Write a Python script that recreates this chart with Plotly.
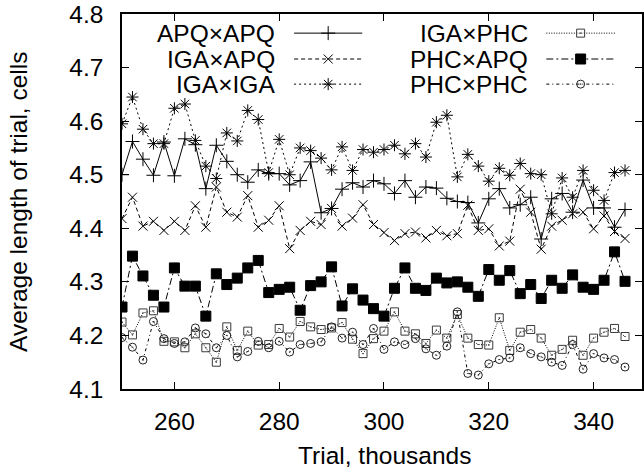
import plotly.graph_objects as go

trial = [250, 252, 254, 256, 258, 260, 262, 264, 266, 268, 270, 272, 274, 276, 278, 280, 282,
         284, 286, 288, 290, 292, 294, 296, 298, 300, 302, 304, 306, 308, 310, 312, 314, 316,
         318, 320, 322, 324, 326, 328, 330, 332, 334, 336, 338, 340, 342, 344, 346]

apq_apq = [4.500, 4.562, 4.529, 4.499, 4.561, 4.498, 4.567, 4.556, 4.474, 4.555, 4.525, 4.500,
           4.486, 4.509, 4.502, 4.502, 4.481, 4.489, 4.524, 4.429, 4.437, 4.473, 4.485, 4.477,
           4.489, 4.483, 4.465, 4.489, 4.458, 4.477, 4.475, 4.456, 4.450, 4.448, 4.410, 4.455,
           4.474, 4.438, 4.444, 4.458, 4.380, 4.455, 4.465, 4.430, 4.490, 4.438, 4.438, 4.402, 4.435]

iga_apq = [4.418, 4.458, 4.404, 4.413, 4.396, 4.413, 4.396, 4.442, 4.402, 4.477, 4.430, 4.421,
           4.461, 4.402, 4.415, 4.442, 4.362, 4.396, 4.413, 4.407, 4.437, 4.404, 4.419, 4.444,
           4.407, 4.392, 4.377, 4.390, 4.393, 4.382, 4.396, 4.386, 4.390, 4.443, 4.396, 4.399,
           4.367, 4.376, 4.473, 4.430, 4.361, 4.404, 4.415, 4.427, 4.430, 4.399, 4.423, 4.394, 4.381]

iga_iga = [4.595, 4.645, 4.585, 4.558, 4.558, 4.624, 4.632, 4.564, 4.516, 4.493, 4.578, 4.563,
           4.620, 4.603, 4.504, 4.566, 4.500, 4.550, 4.545, 4.531, 4.509, 4.552, 4.508, 4.547,
           4.542, 4.547, 4.555, 4.539, 4.558, 4.533, 4.598, 4.611, 4.496, 4.538, 4.516, 4.488,
           4.512, 4.499, 4.521, 4.502, 4.500, 4.427, 4.494, 4.458, 4.508, 4.471, 4.452, 4.504, 4.508]

iga_phc = [4.225, 4.201, 4.242, 4.246, 4.189, 4.188, 4.177, 4.203, 4.177, 4.150, 4.216, 4.172,
           4.208, 4.182, 4.183, 4.213, 4.197, 4.226, 4.216, 4.211, 4.214, 4.224, 4.193, 4.166,
           4.194, 4.208, 4.244, 4.208, 4.203, 4.185, 4.210, 4.195, 4.239, 4.195, 4.183, 4.182,
           4.233, 4.172, 4.206, 4.211, 4.195, 4.163, 4.174, 4.191, 4.163, 4.195, 4.206, 4.213, 4.198]

phc_apq = [4.253, 4.348, 4.311, 4.275, 4.253, 4.326, 4.292, 4.292, 4.236, 4.315, 4.295, 4.307,
           4.326, 4.340, 4.280, 4.286, 4.290, 4.247, 4.293, 4.300, 4.328, 4.255, 4.287, 4.266,
           4.250, 4.236, 4.288, 4.326, 4.288, 4.284, 4.307, 4.298, 4.300, 4.290, 4.273, 4.323,
           4.303, 4.321, 4.278, 4.295, 4.269, 4.303, 4.288, 4.313, 4.290, 4.286, 4.303, 4.356, 4.301]

phc_phc = [4.196, 4.178, 4.154, 4.226, 4.194, 4.185, 4.188, 4.214, 4.203, 4.177, 4.200, 4.160,
           4.170, 4.189, 4.177, 4.189, 4.169, 4.183, 4.185, 4.188, 4.216, 4.195, 4.206, 4.183,
           4.213, 4.174, 4.188, 4.183, 4.194, 4.175, 4.163, 4.180, 4.244, 4.129, 4.126, 4.147,
           4.155, 4.158, 4.177, 4.166, 4.160, 4.150, 4.144, 4.183, 4.137, 4.166, 4.158, 4.155, 4.141]

series_names = ["APQ×APQ", "IGA×APQ", "IGA×IGA", "IGA×PHC", "PHC×APQ", "PHC×PHC"]
series_values = [apq_apq, iga_apq, iga_iga, iga_phc, phc_apq, phc_phc]

x_ticks = [260, 280, 300, 320, 340]
y_ticks = [4.1, 4.2, 4.3, 4.4, 4.5, 4.6, 4.7, 4.8]

# styles
styles = [
    dict(dash="solid", symbol="cross-thin", size=10, color="black"),
    dict(dash="4px,3px", symbol="x-thin", size=9, color="black"),
    dict(dash="2px,3px", symbol="asterisk", size=10, color="black"),
    dict(dash="1px,1.5px", symbol="square-open-dot", size=8, color="#3a3a3a"),
    dict(dash="7px,3px,2px,3px", symbol="square", size=10, color="black"),
    dict(dash="3px,3px,1px,3px", symbol="circle-open-dot", size=8, color="#222222"),
]

FONT = "Liberation Sans, Arial, Helvetica, sans-serif"
FS = 24.5

fig = go.Figure()
for name, vals, st in zip(series_names, series_values, styles):
    fig.add_trace(go.Scatter(
        x=trial, y=vals, name=name, mode="lines+markers", showlegend=False,
        line=dict(color="black", width=1, dash=st["dash"]),
        marker=dict(symbol=st["symbol"], size=st["size"], color=st["color"],
                    line=dict(color=st["color"], width=1)),
        xaxis="x", yaxis="y",
    ))

# manual gnuplot-style legend (text right-aligned, sample on the right)
leg_text_x = [0.299, 0.299, 0.299, 0.785, 0.785, 0.785]
leg_line_x0 = [0.331, 0.331, 0.331, 0.816, 0.816, 0.816]
leg_line_x1 = [0.462, 0.462, 0.462, 0.948, 0.948, 0.948]
leg_y = [0.949, 0.880, 0.813, 0.949, 0.880, 0.813]

annotations = []
for i, (name, st) in enumerate(zip(series_names, styles)):
    x0, x1, yy = leg_line_x0[i], leg_line_x1[i], leg_y[i]
    fig.add_trace(go.Scatter(
        x=[x0, x1], y=[yy, yy], mode="lines", showlegend=False, hoverinfo="skip",
        line=dict(color="black", width=1, dash=st["dash"]), xaxis="x2", yaxis="y2"))
    fig.add_trace(go.Scatter(
        x=[(x0 + x1) / 2], y=[yy], mode="markers", showlegend=False, hoverinfo="skip",
        marker=dict(symbol=st["symbol"], size=st["size"], color=st["color"],
                    line=dict(color=st["color"], width=1)), xaxis="x2", yaxis="y2"))
    annotations.append(dict(
        text=name, xref="paper", yref="paper", x=leg_text_x[i], y=yy,
        xanchor="right", yanchor="middle", showarrow=False,
        font=dict(family=FONT, size=FS, color="black")))

annotations.append(dict(
    text="Average length of trial, cells", xref="paper", yref="paper",
    x=-0.199, y=0.5, xanchor="center", yanchor="middle", textangle=-90, showarrow=False,
    font=dict(family=FONT, size=FS, color="black")))
annotations.append(dict(
    text="Trial, thousands", xref="paper", yref="paper",
    x=0.504, y=-0.176, xanchor="center", yanchor="middle", showarrow=False,
    font=dict(family=FONT, size=FS, color="black")))

axis_common = dict(showgrid=False, zeroline=False, showline=True, linecolor="black",
                   linewidth=1.5, mirror="allticks", ticks="inside", ticklen=7,
                   tickcolor="black", tickwidth=1.2,
                   tickfont=dict(family=FONT, size=FS, color="black"))

fig.update_layout(
    width=644, height=471,
    margin=dict(l=122, r=0, t=14, b=82),
    paper_bgcolor="white", plot_bgcolor="white",
    showlegend=False,
    hovermode=False,
    annotations=annotations,
    xaxis=dict(range=[250, 349.24], tickvals=x_ticks, ticktext=[str(v) for v in x_ticks],
               ticklabelstandoff=10, **axis_common),
    yaxis=dict(range=[4.1, 4.8], tickvals=y_ticks, ticktext=[f"{v:.1f}" for v in y_ticks],
               ticklabelstandoff=12, **axis_common),
    xaxis2=dict(range=[0, 1], overlaying="x", visible=False, fixedrange=True),
    yaxis2=dict(range=[0, 1], overlaying="y", visible=False, fixedrange=True),
)

fig.write_html("out.html", config={"displayModeBar": False},
               post_script="document.body.style.margin='0px';document.body.style.overflow='hidden';")
